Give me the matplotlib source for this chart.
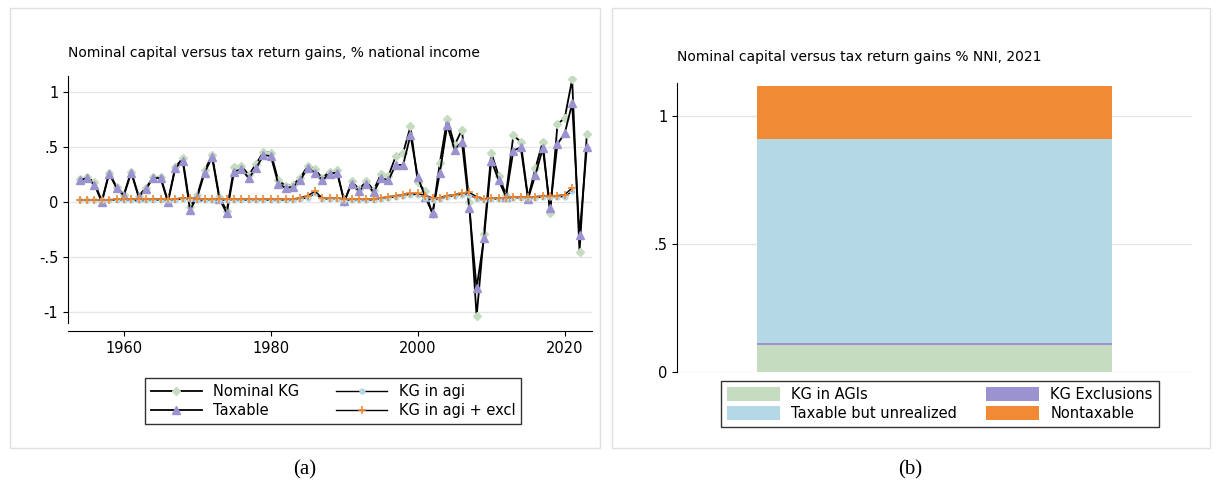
import matplotlib
matplotlib.use("Agg")
import matplotlib.pyplot as plt
from matplotlib.patches import Rectangle
import numpy as np

years = list(range(1954, 2024))
taxable = [.20,.22,.16,.00,.26,.13,.06,.27,.05,.12,.22,.22,.00,.31,.38,-.07,.05,.27,.41,.03,-.10,.28,.30,.22,.31,.43,.42,.17,.13,.14,.20,.31,.27,.20,.26,.27,.01,.17,.10,.17,.09,.22,.20,.34,.34,.61,.23,.05,-.10,.27,.70,.48,.55,-.05,-.78,-.33,.38,.20,.05,.47,.50,.03,.25,.49,-.05,.53,.63,.90,-.30,.50]
nominal = [.21,.23,.18,.01,.27,.14,.07,.28,.06,.13,.23,.23,.01,.32,.40,-.04,.07,.29,.43,.05,-.08,.32,.33,.25,.35,.46,.45,.20,.15,.16,.22,.33,.30,.22,.28,.29,.00,.19,.12,.19,.11,.26,.24,.42,.45,.69,.18,.10,-.11,.36,.76,.52,.66,.00,-1.04,-.29,.45,.24,.07,.61,.55,.04,.31,.55,-.10,.71,.77,1.12,-.45,.62]
kg_agi = [.02,.02,.02,.02,.02,.02,.02,.02,.02,.02,.02,.02,.02,.02,.03,.03,.02,.02,.02,.02,.02,.02,.02,.02,.02,.02,.02,.02,.02,.02,.03,.04,.08,.03,.03,.03,.02,.02,.02,.02,.02,.03,.04,.05,.06,.07,.07,.04,.02,.03,.05,.06,.07,.07,.03,.02,.03,.03,.03,.04,.04,.04,.04,.05,.05,.05,.05,.10,None,None]
kg_excl = [.02,.02,.02,.02,.02,.03,.03,.03,.03,.03,.03,.03,.03,.03,.04,.04,.03,.03,.03,.03,.03,.03,.03,.03,.03,.03,.03,.03,.03,.03,.04,.06,.10,.04,.04,.04,.03,.03,.03,.03,.03,.04,.05,.06,.07,.08,.08,.06,.04,.04,.06,.07,.08,.09,.05,.03,.04,.04,.04,.05,.05,.05,.05,.06,.06,.06,.07,.13,None,None]

cats = ["KG in AGIs", "KG Exclusions", "Taxable but unrealized", "Nontaxable"]
vals_b = [0.105, 0.01, 0.795, 0.21]
cols_b = ["#c5dcc0", "#9b93d0", "#b5d8e6", "#f08a35"]

W, H = 1217, 488
fig = plt.figure(figsize=(W/100, H/100), dpi=100)

def ax_px(l, t, r, b):
    return fig.add_axes([l/W, 1-b/H, (r-l)/W, (b-t)/H])

for (l, t, r, b) in [(10, 8, 600, 448), (612, 8, 1210, 448)]:
    fig.patches.append(Rectangle((l/W, 1-b/H), (r-l)/W, (b-t)/H, transform=fig.transFigure,
                                 fill=False, ec="#e0e0e0", lw=1))
fig.text(305/W, 1-470/H, "(a)", ha="center", va="center", family="Liberation Serif", fontsize=15)
fig.text(910/W, 1-470/H, "(b)", ha="center", va="center", family="Liberation Serif", fontsize=15)

# ---- panel a
ax = ax_px(68, 76, 592, 323)
tx = np.array(years)
def arr(v): return np.array([np.nan if x is None else x for x in v], float)
ax.plot(tx, arr(nominal), color="black", lw=1.3, marker="D", ms=4.5, mfc="#c5dcc0", mec="#c5dcc0", label="Nominal KG")
ax.plot(tx, arr(taxable), color="black", lw=1.3, marker="^", ms=5.5, mfc="#9b93d0", mec="#9b93d0", label="Taxable")
ax.plot(tx, arr(kg_agi), color="black", lw=1.0, marker="o", ms=3.5, mfc="#b5d8e6", mec="#b5d8e6", label="KG in agi")
ax.plot(tx, arr(kg_excl), color="black", lw=1.0, marker="+", ms=6, mew=1.2, mec="#f08a35", label="KG in agi + excl")
ax.set_xlim(1952.4, 2023.7)
ax.set_ylim(-1.1, 1.15)
ax.set_yticks([-1, -.5, 0, .5, 1])
ax.set_yticklabels(["-1", "-.5", "0", ".5", "1"])
ax.set_xticks([1960, 1980, 2000, 2020])
ax.grid(axis="y", color="#e6e6e6", lw=1)
ax.set_axisbelow(True)
for s in ["top", "right"]:
    ax.spines[s].set_visible(False)
ax.spines["bottom"].set_position(("outward", 6))
ax.tick_params(labelsize=10.5)
ax.set_title("Nominal capital versus tax return gains, % national income", loc="left", fontsize=10, pad=14, x=0.0)
h, lb = ax.get_legend_handles_labels()
fig.legend(h, lb, ncol=2, loc="center",
           bbox_to_anchor=(333/W, 1-401/H), frameon=True, fancybox=False, edgecolor="black",
           fontsize=10.5, handlelength=3.5, columnspacing=2.5, labelspacing=0.3)

# ---- panel b
bx = ax_px(677, 83, 1192, 372)
bottom = 0
for c, v, col in zip(cats, vals_b, cols_b):
    bx.bar([0], [v], bottom=bottom, width=0.69, color=col, label=c)
    bottom += v
bx.set_xlim(-0.5, 0.5)
bx.set_ylim(0, 1.13)
bx.set_xticks([])
bx.set_yticks([0, .5, 1])
bx.set_yticklabels(["0", ".5", "1"])
bx.grid(axis="y", color="#e6e6e6", lw=1)
bx.set_axisbelow(True)
for s in ["top", "right", "bottom"]:
    bx.spines[s].set_visible(False)
bx.tick_params(labelsize=10.5)
bx.set_title("Nominal capital versus tax return gains % NNI, 2021", loc="left", fontsize=10, pad=16, x=0.0)
hb, lbb = bx.get_legend_handles_labels()
order = [0, 2, 1, 3]
fig.legend([hb[i] for i in order], [lbb[i] for i in order], ncol=2, loc="center",
           bbox_to_anchor=(940/W, 1-404/H), frameon=True, fancybox=False, edgecolor="black",
           fontsize=10.5, handlelength=3.6, handleheight=1.1, columnspacing=2.0, labelspacing=0.3)

fig.savefig("out.png", dpi=100)
